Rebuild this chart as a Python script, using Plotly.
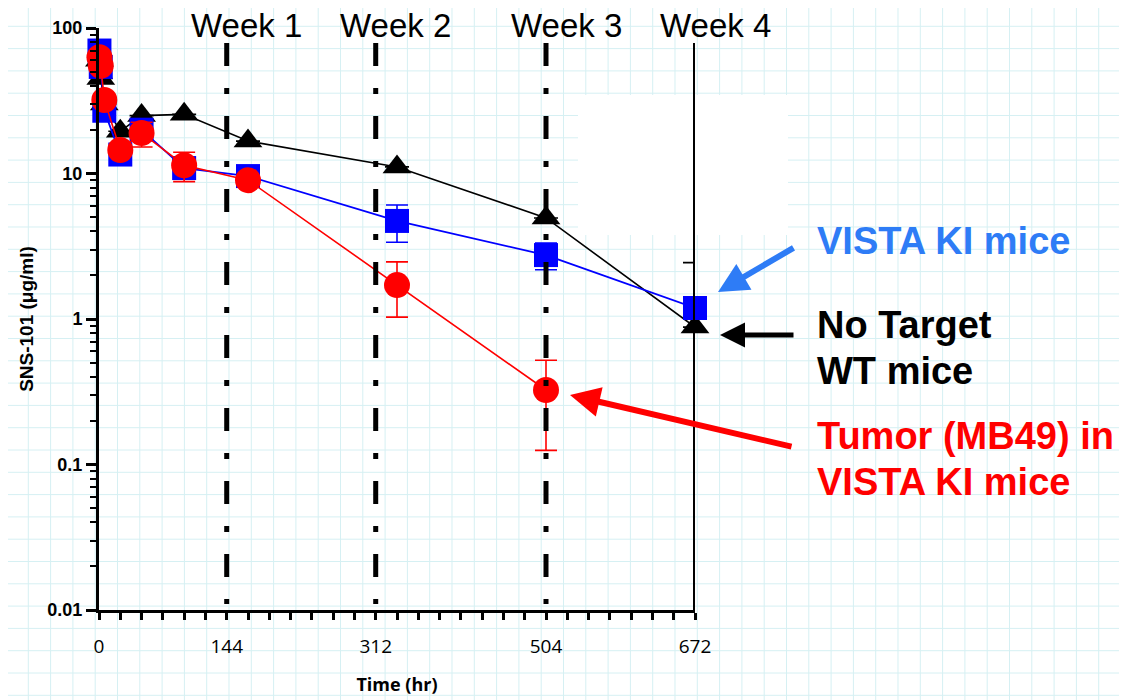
import plotly.graph_objects as go

# ---------------- data ----------------
time_hr = [0.5, 2, 6, 24, 48, 96, 168, 336, 504, 672]

wt_vals = [60, 45, 30, 19.5, 25, 25.5, 16.7, 11.1, 4.95, 0.88]
wt_err_plus = [0, 0, 0, 0, 0, 0, 0, 0, 0, 1.56]
wt_err_minus = [0, 0, 0, 0, 0, 0, 0, 0, 0, 0]

ki_vals = [70, 54, 27, 13.5, 20, 10.9, 9.6, 4.72, 2.75, 1.19]
ki_err = [0, 0, 0, 0, 0, 0, 0, 1.35, 0.57, 0]

tumor_time = [0.5, 2, 6, 24, 48, 96, 168, 336, 504]
tumor_vals = [63, 55, 32, 14.5, 19, 11.4, 9.0, 1.71, 0.325]
tumor_err_plus = [0, 0, 0, 0, 3.5, 2.6, 0, 0.76, 0.195]
tumor_err_minus = [0, 0, 0, 0, 3.8, 2.6, 0, 0.68, 0.20]

x_ticks = [0, 144, 312, 504, 672]
y_ticks = [0.01, 0.1, 1, 10, 100]
y_ticktext = ["0.01", "0.1", "1", "10", "100"]

week_hours = [144, 312, 504, 672]
week_labels = ["Week 1", "Week 2", "Week 3", "Week 4"]

# ---------------- layout geometry (page pixels) ----------------
W, H = 1127, 700
OFF = 8  # page body margin
PL, PR, PT, PB = 99, 695, 28, 610  # plot area edges in page pixels
ML, MT = PL - OFF, PT - OFF
PW, PH = PR - PL, PB - PT
MR, MB = W - ML - PW, H - MT - PH


def px_x(p):
    return (p - PL) / PW


def px_y(p):
    return (PB - p) / PH


fig = go.Figure()

fig.add_trace(go.Scatter(
    x=time_hr, y=wt_vals, mode="lines+markers", name="No Target WT mice",
    line=dict(color="black", width=1.6),
    marker=dict(symbol="triangle-up", size=25, color="black"),
    error_y=dict(type="data", symmetric=False, array=wt_err_plus, arrayminus=wt_err_minus,
                 color="black", thickness=1.6, width=12),
    cliponaxis=False, showlegend=False))

fig.add_trace(go.Scatter(
    x=time_hr, y=ki_vals, mode="lines+markers", name="VISTA KI mice",
    line=dict(color="#0000ff", width=1.8),
    marker=dict(symbol="square", size=24, color="#0000ff"),
    error_y=dict(type="data", array=ki_err, color="#0000ff", thickness=1.6, width=11),
    cliponaxis=False, showlegend=False))

fig.add_trace(go.Scatter(
    x=tumor_time, y=tumor_vals, mode="lines+markers", name="Tumor (MB49) in VISTA KI mice",
    line=dict(color="#ff0000", width=1.6),
    marker=dict(symbol="circle", size=26, color="#ff0000"),
    error_y=dict(type="data", symmetric=False, array=tumor_err_plus, arrayminus=tumor_err_minus,
                 color="#ff0000", thickness=1.6, width=11),
    cliponaxis=False, showlegend=False))

# ---------------- background graph paper ----------------
step = 22.3
path = []
v = 6.0
while v < W + OFF:
    path.append(f"M{px_x(v):.5f},{px_y(0):.5f}L{px_x(v):.5f},{px_y(H + OFF):.5f}")
    v += step
v = 4.0
while v < H + OFF:
    path.append(f"M{px_x(0):.5f},{px_y(v):.5f}L{px_x(W + OFF):.5f},{px_y(v):.5f}")
    v += step

shapes = [
    dict(type="path", xref="paper", yref="paper", path="".join(path),
         line=dict(color="#d6f0f3", width=1), layer="below"),
    dict(type="rect", xref="paper", yref="paper",
         x0=px_x(578), x1=px_x(788), y0=px_y(235), y1=px_y(95),
         fillcolor="white", line=dict(width=0), layer="below"),
]

# ---------------- week lines ----------------
for i, wh in enumerate(week_hours):
    last = i == len(week_hours) - 1
    shapes.append(dict(
        type="line", xref="x", yref="paper", x0=wh, x1=wh,
        y0=px_y(43), y1=0 if last else px_y(604),
        line=dict(color="black", width=4 if last else 5,
                  dash="solid" if last else "23px,22px,6px,22px"),
        layer="above"))

annotations = []
for wh, lab in zip(week_hours, week_labels):
    annotations.append(dict(
        x=wh, xref="x", y=px_y(25), yref="paper", text=lab, showarrow=False,
        xanchor="center", yanchor="middle", xshift=20,
        font=dict(family="Liberation Sans", size=33, color="black")))

bold = dict(family="Liberation Sans", size=38, weight="bold")
side_labels = [
    ("VISTA KI mice", 241, "#2e7cf6"),
    ("No Target", 325, "black"),
    ("WT mice", 371, "black"),
    ("Tumor (MB49) in", 436, "#ff0000"),
    ("VISTA KI mice", 482, "#ff0000"),
]
for txt, yc, col in side_labels:
    annotations.append(dict(
        x=px_x(815), y=px_y(yc), xref="paper", yref="paper", text=txt,
        showarrow=False, xanchor="left", yanchor="middle", align="left",
        font=dict(**bold, color=col)))

annotations += [
    dict(x=px_x(718), y=px_y(292), xref="paper", yref="paper", text="", showarrow=True,
         ax=77, ay=-45, arrowhead=2, arrowsize=1, arrowwidth=6, arrowcolor="#2e7cf6"),
    dict(x=px_x(720), y=px_y(335), xref="paper", yref="paper", text="", showarrow=True,
         ax=75, ay=0, arrowhead=2, arrowsize=1, arrowwidth=5, arrowcolor="black"),
    dict(x=px_x(570), y=px_y(395), xref="paper", yref="paper", text="", showarrow=True,
         ax=223, ay=52, arrowhead=2, arrowsize=1, arrowwidth=6, arrowcolor="#ff0000"),
]

fig.update_layout(
    template="none",
    width=W, height=H,
    margin=dict(l=ML, r=MR, t=MT, b=MB, pad=0),
    paper_bgcolor="white",
    plot_bgcolor="rgba(0,0,0,0)",
    showlegend=False,
    shapes=shapes,
    annotations=annotations,
    xaxis=dict(
        range=[0, 672], tickmode="array", tickvals=x_ticks, ticktext=[str(t) for t in x_ticks],
        showgrid=False, zeroline=False, showline=True, linecolor="black", linewidth=3,
        ticks="outside", ticklen=7, tickwidth=2.5, tickcolor="black",
        minor=dict(dtick=24, tick0=0, ticks="outside", ticklen=7, tickwidth=2.5,
                   tickcolor="black", showgrid=False),
        tickfont=dict(family="Open Sans", size=19, color="black"),
        ticklabelstandoff=10,
        title=dict(text="Time (hr)", standoff=21,
                   font=dict(family="Open Sans", size=18, color="black", weight="bold")),
        automargin=False, fixedrange=True),
    yaxis=dict(
        type="log", range=[-2, 2], tickmode="array", tickvals=y_ticks, ticktext=y_ticktext,
        showgrid=False, zeroline=False, showline=True, linecolor="black", linewidth=3,
        ticks="outside", ticklen=10, tickwidth=2.5, tickcolor="black",
        minor=dict(dtick="D1", ticks="outside", ticklen=6, tickwidth=2.2,
                   tickcolor="black", showgrid=False),
        tickfont=dict(family="Liberation Sans", size=18, color="black", weight="bold"),
        title=dict(text="SNS-101 (μg/ml)", standoff=9,
                   font=dict(family="Liberation Sans", size=19, color="black", weight="bold")),
        automargin=False, fixedrange=True),
)

fig.write_html("out.html")
